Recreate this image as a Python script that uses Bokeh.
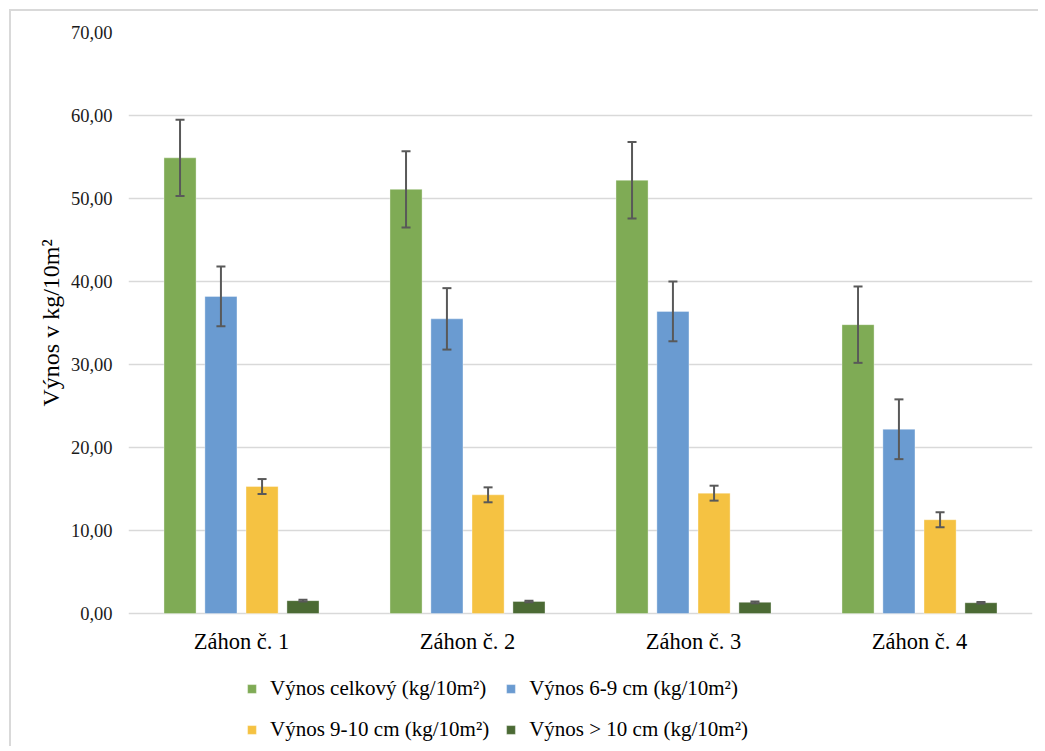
from bokeh.plotting import figure
from bokeh.models import (ColumnDataSource, FactorRange, FixedTicker, Whisker, TeeHead,
                          Legend, LegendItem, Title)
from bokeh.core.properties import value
from bokeh.transform import dodge
from bokeh.embed import file_html
from bokeh.resources import INLINE

categories = ["Záhon č. 1", "Záhon č. 2", "Záhon č. 3", "Záhon č. 4"]
series_names = ["Výnos celkový (kg/10m²)", "Výnos 6-9 cm (kg/10m²)",
                "Výnos 9-10 cm (kg/10m²)", "Výnos > 10 cm (kg/10m²)"]
celkovy = [54.9, 51.1, 52.2, 34.8]
celkovy_err = [4.6, 4.6, 4.6, 4.6]
v6_9 = [38.2, 35.5, 36.4, 22.2]
v6_9_err = [3.6, 3.7, 3.6, 3.6]
v9_10 = [15.3, 14.3, 14.5, 11.3]
v9_10_err = [0.9, 0.9, 0.9, 0.9]
v10 = [1.55, 1.45, 1.35, 1.3]
v10_err = [0.1, 0.1, 0.1, 0.1]
y_ticks = [0, 10, 20, 30, 40, 50, 60, 70]
y_tick_labels = ["0,00", "10,00", "20,00", "30,00", "40,00", "50,00", "60,00", "70,00"]
y_title = "Výnos v kg/10m²"

colors = ["#7fab55", "#6a9bd1", "#f5c242", "#4b6a34"]
offsets = [-0.272, -0.091, 0.091, 0.272]
values = [celkovy, v6_9, v9_10, v10]
errors = [celkovy_err, v6_9_err, v9_10_err, v10_err]

FONT = "'Liberation Serif', 'Times New Roman', serif"

# frame extends below the value axis so the legend can sit inside it
p = figure(x_range=FactorRange(*categories, range_padding=0), y_range=(-15.66, 70),
           frame_width=904, frame_height=711,
           min_border_left=117, min_border_top=21, min_border_right=6, min_border_bottom=3,
           output_backend="svg", toolbar_location=None)
p.margin = (9, 0, 0, 9)
p.styles = {"border-top": "2px solid #d9d9d9", "border-left": "2px solid #d9d9d9"}
p.outline_line_color = None
p.background_fill_color = "white"

renderers = []
for name, vals, errs, col, off in zip(series_names, values, errors, colors, offsets):
    src = ColumnDataSource(dict(x=categories, top=vals,
                                upper=[v + e for v, e in zip(vals, errs)],
                                lower=[v - e for v, e in zip(vals, errs)]))
    r = p.vbar(x=dodge("x", off, range=p.x_range), top="top", bottom=0, width=0.142, source=src,
               fill_color=col, line_color="white", line_alpha=0.35, line_width=1)
    w = Whisker(base=dodge("x", off, range=p.x_range), upper="upper", lower="lower",
                source=src, line_color="#595959", line_width=2, level="overlay",
                upper_head=TeeHead(size=9, line_color="#595959", line_width=2),
                lower_head=TeeHead(size=9, line_color="#595959", line_width=2))
    p.add_layout(w)
    renderers.append(r)

# category labels under the zero line
p.text(x=categories, y=[0] * len(categories), text=categories, y_offset=28,
       text_align="center", text_baseline="middle", text_font=value(FONT),
       text_font_size="22.5px", text_color="#000000")

p.xaxis.visible = False
p.xgrid.grid_line_color = None
p.ygrid.grid_line_color = "#d9d9d9"
p.ygrid.grid_line_width = 1.5

p.yaxis.ticker = FixedTicker(ticks=y_ticks)
p.yaxis.major_label_overrides = {t: l for t, l in zip(y_ticks, y_tick_labels)}
p.yaxis.axis_line_color = None
p.yaxis.major_tick_line_color = None
p.yaxis.minor_tick_line_color = None
p.yaxis.major_label_text_font = FONT
p.yaxis.major_label_text_font_size = "18.5px"
p.yaxis.major_label_text_color = "#1a1a1a"
p.yaxis.major_label_standoff = 10

p.add_layout(Title(text=y_title, align="left", offset=337, text_font=FONT,
                   text_font_size="24px", text_font_style="normal", text_color="#000000",
                   standoff=8), "left")

# legend laid out column by column: (celkový, 9-10) then (6-9, >10)
order = [0, 2, 1, 3]
items = [LegendItem(label=series_names[i], renderers=[renderers[i]]) for i in order]
legend = Legend(items=items, ncols=2, location=(118, 1),
                label_text_font=FONT, label_text_font_size="21px", label_text_color="#000000",
                glyph_width=11, glyph_height=11, label_standoff=13, spacing=16,
                label_height=24, border_line_color=None, background_fill_alpha=0,
                padding=2, margin=0)
p.add_layout(legend, "center")

open("out.html", "w").write(file_html(p, INLINE))
